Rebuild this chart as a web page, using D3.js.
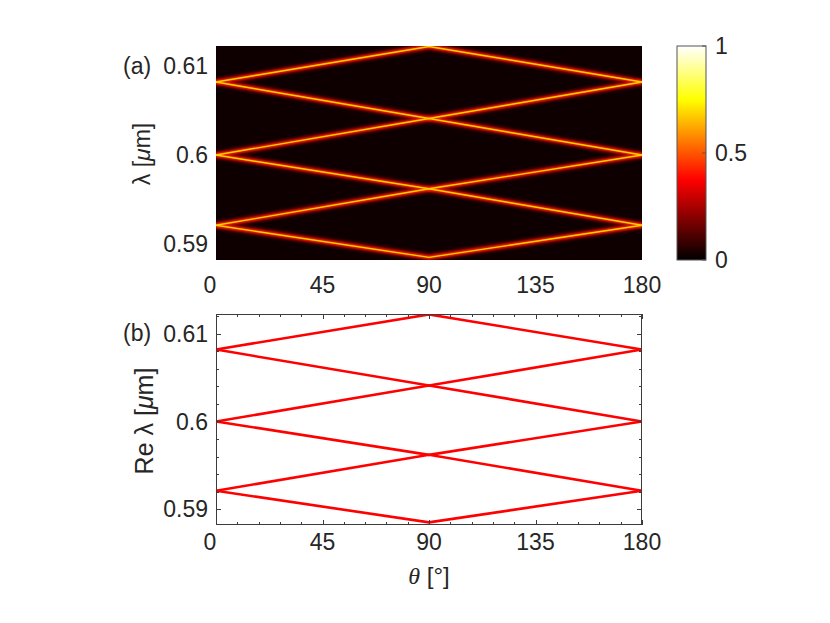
<!DOCTYPE html>
<html>
<head>
<meta charset="utf-8">
<script src="https://cdn.jsdelivr.net/npm/d3@7/dist/d3.min.js"></script>
<style>
html,body{margin:0;padding:0;background:#fff;}
svg{display:block;}
text{font-family:"Liberation Sans",Arial,sans-serif;fill:#262626;}
</style>
</head>
<body>
<svg id="chart" width="830" height="623"></svg>
<script>
// ---- data ----
const thetaTicks = [0, 45, 90, 135, 180];
const lambdaTicks = [0.59, 0.6, 0.61];
const colorbarTicks = [0, 0.5, 1];
const thetaNodes = [0, 90, 180];
// resonance branches: lambda (um) at theta = 0, 90, 180
const branchA1 = [0.6082, 0.6122, 0.6082];
const branchB1 = [0.6082, 0.6041, 0.6082];
const branchA2 = [0.6000, 0.6041, 0.6000];
const branchB2 = [0.6000, 0.5962, 0.6000];
const branchA3 = [0.5921, 0.5962, 0.5921];
const branchB3 = [0.5921, 0.5885, 0.5921];
const branches = [branchA1, branchB1, branchA2, branchB2, branchA3, branchB3];

// ---- layout ----
const svg = d3.select("#chart");
const X0 = 216, X1 = 642;
const topY0 = 46, topY1 = 260;
const botY0 = 314, botY1 = 525;
const lamDomain = [0.5882, 0.61225];

const x = d3.scaleLinear().domain([0, 180]).range([X0, X1]);
const yTop = d3.scaleLinear().domain(lamDomain).range([topY1, topY0]);
const yBot = d3.scaleLinear().domain(lamDomain).range([botY1, botY0]);

const hot = d3.scaleLinear()
  .domain([0, 0.375, 0.75, 1])
  .range(["#000000", "#ff0000", "#ffff00", "#ffffff"]);

const defs = svg.append("defs");
defs.append("clipPath").attr("id", "clipTop").append("rect")
  .attr("x", X0).attr("y", topY0).attr("width", X1 - X0).attr("height", topY1 - topY0);
defs.append("clipPath").attr("id", "clipBot").append("rect")
  .attr("x", X0).attr("y", botY0).attr("width", X1 - X0).attr("height", botY1 - botY0);
function blur(id, s) {
  defs.append("filter").attr("id", id).attr("x", "-10%").attr("y", "-10%")
    .attr("width", "120%").attr("height", "120%")
    .append("feGaussianBlur").attr("stdDeviation", s);
}
blur("glow1", 1.8); blur("glow2", 0.8); blur("glow3", 0.4);

// ---- panel (a): intensity map ----
const gA = svg.append("g");
gA.append("rect").attr("x", X0).attr("y", topY0).attr("width", X1 - X0).attr("height", topY1 - topY0)
  .attr("fill", hot(0.02));
const lineTop = d3.line().x((d, i) => x(thetaNodes[i])).y(d => yTop(d));
const glowLayers = [
  {w: 7, c: hot(0.22), f: "glow1", o: 0.9},
  {w: 3.2, c: hot(0.44), f: "glow2", o: 1},
  {w: 1.4, c: hot(0.68), f: "glow3", o: 1}
];
const gLines = gA.append("g").attr("clip-path", "url(#clipTop)");
glowLayers.forEach(L => {
  gLines.selectAll(null).data(branches).enter().append("path")
    .attr("d", lineTop).attr("fill", "none")
    .attr("stroke", L.c).attr("stroke-width", L.w).attr("opacity", L.o)
    .attr("filter", `url(#${L.f})`);
});

const zeroShift = d => (d === 0 ? -6 : 0);

// axis labels (a)
gA.selectAll(".ytA").data(lambdaTicks).enter().append("text")
  .attr("x", 208).attr("y", d => yTop(d)).attr("dy", "0.36em")
  .attr("text-anchor", "end").attr("font-size", 23).text(d => d);
gA.selectAll(".xtA").data(thetaTicks).enter().append("text")
  .attr("x", d => x(d) + zeroShift(d)).attr("y", 293)
  .attr("text-anchor", "middle").attr("font-size", 23).text(d => d);
gA.append("text").attr("x", 123).attr("y", 74).attr("font-size", 23).text("(a)");
const ylA = gA.append("text").attr("transform", "translate(150,154) rotate(-90)")
  .attr("text-anchor", "middle").attr("font-size", 23);
ylA.append("tspan").text("λ [");
ylA.append("tspan").attr("font-style", "italic").text("μ");
ylA.append("tspan").text("m]");

// ---- colorbar ----
const cbX = 677, cbW = 29;
const cbY = d3.scaleLinear().domain([0, 1]).range([topY1, topY0]);
const grad = defs.append("linearGradient").attr("id", "hotGrad")
  .attr("x1", 0).attr("y1", 1).attr("x2", 0).attr("y2", 0);
hot.domain().forEach(v => grad.append("stop").attr("offset", v).attr("stop-color", hot(v)));
svg.append("rect").attr("x", cbX).attr("y", topY0).attr("width", cbW).attr("height", topY1 - topY0)
  .attr("fill", "url(#hotGrad)").attr("stroke", "#555").attr("stroke-width", 1);
svg.selectAll(".cbt").data(colorbarTicks).enter().append("line")
  .attr("x1", cbX + cbW - 4).attr("x2", cbX + cbW)
  .attr("y1", d => cbY(d)).attr("y2", d => cbY(d)).attr("stroke", "#555");
svg.selectAll(".cbl").data(colorbarTicks).enter().append("text")
  .attr("x", 715).attr("y", d => cbY(d)).attr("dy", "0.36em")
  .attr("font-size", 23).text(d => d);

// ---- panel (b): line plot ----
const gB = svg.append("g");
const lineBot = d3.line().x((d, i) => x(thetaNodes[i])).y(d => yBot(d));
gB.append("g").attr("clip-path", "url(#clipBot)").selectAll("path").data(branches).enter().append("path")
  .attr("d", lineBot).attr("fill", "none").attr("stroke", "#ff0000").attr("stroke-width", 2.6);

// frame
gB.append("rect").attr("x", X0 + 0.5).attr("y", botY0 + 0.5).attr("width", X1 - X0 - 1).attr("height", botY1 - botY0 - 1)
  .attr("fill", "none").attr("stroke", "#3c3c3c").attr("stroke-width", 1);

// ticks
const xMinor = d3.range(0, 181, 9);
const yMinor = d3.range(0.59, 0.6121, 0.002);
const ticksG = gB.append("g").attr("stroke", "#3c3c3c").attr("stroke-width", 1);
xMinor.forEach(t => {
  const len = thetaTicks.includes(t) ? 5 : 3;
  const px = Math.round(x(t)) + 0.5;
  ticksG.append("line").attr("x1", px).attr("x2", px).attr("y1", botY1).attr("y2", botY1 - len);
  ticksG.append("line").attr("x1", px).attr("x2", px).attr("y1", botY0).attr("y2", botY0 + len);
});
yMinor.forEach(v => {
  const major = lambdaTicks.some(m => Math.abs(m - v) < 1e-6);
  const len = major ? 5 : 3;
  const py = Math.round(yBot(v)) + 0.5;
  ticksG.append("line").attr("x1", X0).attr("x2", X0 + len).attr("y1", py).attr("y2", py);
  ticksG.append("line").attr("x1", X1).attr("x2", X1 - len).attr("y1", py).attr("y2", py);
});

gB.selectAll(".ytB").data(lambdaTicks).enter().append("text")
  .attr("x", 208).attr("y", d => yBot(d)).attr("dy", "0.36em")
  .attr("text-anchor", "end").attr("font-size", 23).text(d => d);
gB.selectAll(".xtB").data(thetaTicks).enter().append("text")
  .attr("x", d => x(d) + zeroShift(d)).attr("y", 550)
  .attr("text-anchor", "middle").attr("font-size", 23).text(d => d);
gB.append("text").attr("x", 123).attr("y", 341).attr("font-size", 23).text("(b)");
const ylB = gB.append("text").attr("transform", "translate(153,421) rotate(-90)")
  .attr("text-anchor", "middle").attr("font-size", 25);
ylB.append("tspan").text("Re λ [");
ylB.append("tspan").attr("font-style", "italic").text("μ");
ylB.append("tspan").text("m]");
const xl = gB.append("text").attr("x", 429).attr("y", 584).attr("text-anchor", "middle").attr("font-size", 24);
xl.append("tspan").attr("font-family", "Liberation Serif").attr("font-style", "italic").text("θ");
xl.append("tspan").text(" [°]");
</script>
</body>
</html>
